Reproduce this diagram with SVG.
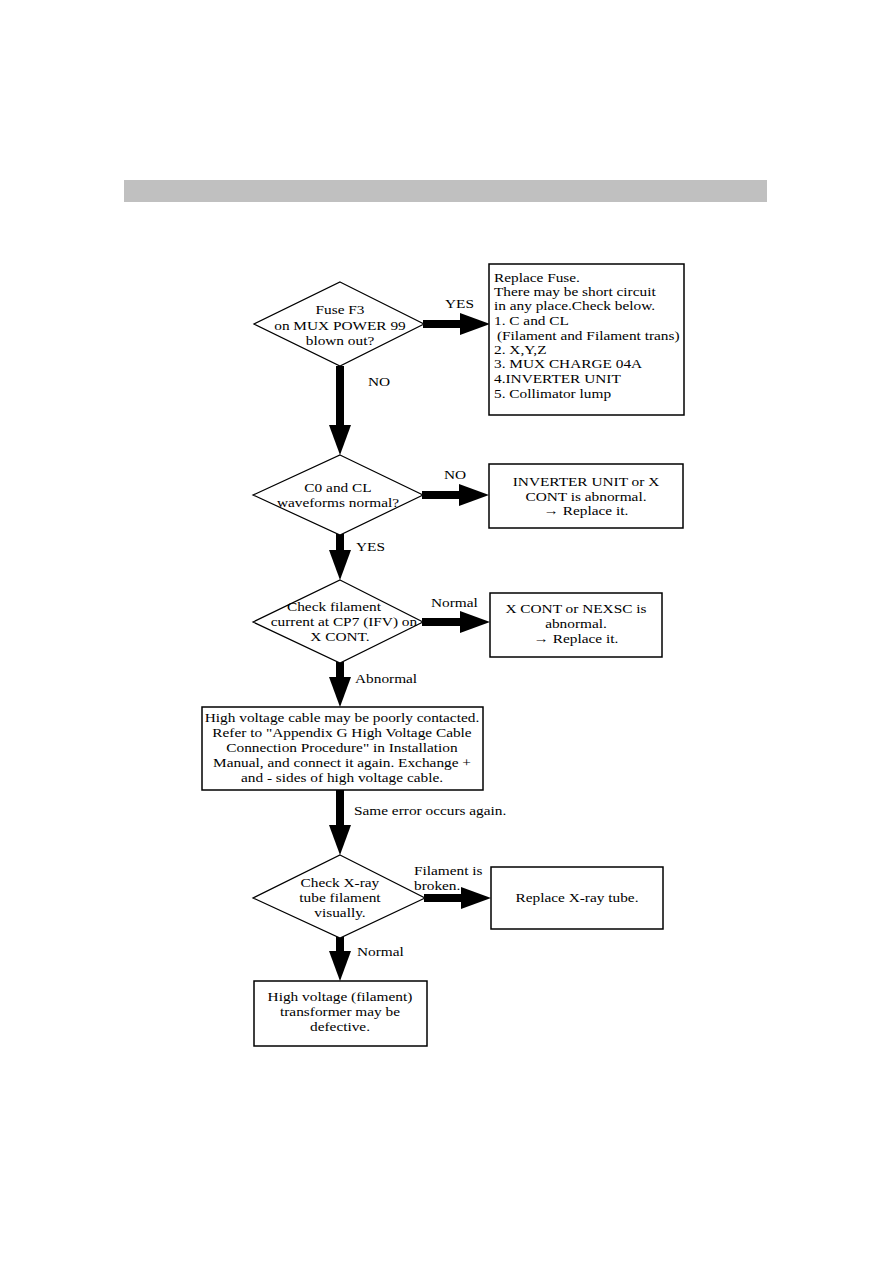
<svg xmlns="http://www.w3.org/2000/svg" width="893" height="1263" viewBox="0 0 893 1263">
<style>
.t{font-family:"Liberation Serif","Times New Roman",serif;font-size:13px;fill:#000;transform-box:fill-box;transform:scaleX(1.18)}
.c{text-anchor:middle;transform-origin:center}
.l{transform-origin:left center}
.box{fill:#fff;stroke:#000;stroke-width:1.5}
.dia{fill:#fff;stroke:#000;stroke-width:1.2}
.sh{stroke:#000;stroke-width:8;fill:none}
</style>
<defs>
<marker id="ah" markerUnits="userSpaceOnUse" markerWidth="30" markerHeight="22" refX="0" refY="11" orient="auto" viewBox="0 0 30 22">
<path d="M0,0 L30,11 L0,22 Z" fill="#000"/>
</marker>
</defs>
<rect width="893" height="1263" fill="#fff"/>
<rect x="124" y="180" width="643" height="22" fill="#c0c0c0"/>

<g id="connectors">
<line class="sh" x1="340" y1="366" x2="340" y2="425" marker-end="url(#ah)"/>
<line class="sh" x1="423" y1="324" x2="460" y2="324" marker-end="url(#ah)"/>
<line class="sh" x1="422" y1="495" x2="459" y2="495" marker-end="url(#ah)"/>
<line class="sh" x1="340" y1="534" x2="340" y2="550" marker-end="url(#ah)"/>
<line class="sh" x1="422" y1="622" x2="460" y2="622" marker-end="url(#ah)"/>
<line class="sh" x1="340" y1="662" x2="340" y2="677" marker-end="url(#ah)"/>
<line class="sh" x1="340" y1="790" x2="340" y2="825" marker-end="url(#ah)"/>
<line class="sh" x1="424" y1="898" x2="461" y2="898" marker-end="url(#ah)"/>
<line class="sh" x1="340" y1="937" x2="340" y2="951" marker-end="url(#ah)"/>
<text class="t l" x="445" y="308">YES</text>
<text class="t l" x="368" y="386">NO</text>
<text class="t l" x="444" y="479">NO</text>
<text class="t l" x="356" y="551">YES</text>
<text class="t l" x="431" y="607">Normal</text>
<text class="t l" x="355" y="683">Abnormal</text>
<text class="t l" x="354" y="815">Same error occurs again.</text>
<text class="t l" x="414" y="875">Filament is</text>
<text class="t l" x="414" y="890">broken.</text>
<text class="t l" x="357" y="956">Normal</text>
</g>

<g id="d1">
<polygon class="dia" points="340,282 424,324 340,366 254,324"/>
<text class="t c" x="340" y="314">Fuse F3</text>
<text class="t c" x="340" y="330">on MUX POWER 99</text>
<text class="t c" x="340" y="345">blown out?</text>
</g>

<g id="b1">
<rect class="box" x="489" y="264" width="195" height="151"/>
<text class="t l" x="494" y="282">Replace Fuse.</text>
<text class="t l" x="494" y="296">There may be short circuit</text>
<text class="t l" x="494" y="310">in any place.Check below.</text>
<text class="t l" x="494" y="325">1. C and CL</text>
<text class="t l" x="497" y="340">(Filament and Filament trans)</text>
<text class="t l" x="494" y="354">2. X,Y,Z</text>
<text class="t l" x="494" y="368">3. MUX CHARGE 04A</text>
<text class="t l" x="494" y="383">4.INVERTER UNIT</text>
<text class="t l" x="494" y="398">5. Collimator lump</text>
</g>

<g id="d2">
<polygon class="dia" points="340,455 423,495 340,535 253,495"/>
<text class="t c" x="338" y="492">C0 and CL</text>
<text class="t c" x="338" y="507">waveforms normal?</text>
</g>

<g id="b2">
<rect class="box" x="489" y="464" width="194" height="64"/>
<text class="t c" x="586" y="486">INVERTER UNIT or X</text>
<text class="t c" x="586" y="501">CONT is abnormal.</text>
<text class="t c" x="586" y="515">→ Replace it.</text>
</g>

<g id="d3">
<polygon class="dia" points="340,580 423,622 340,663 253,622"/>
<text class="t c" x="334" y="611">Check filament</text>
<text class="t c" x="344" y="626">current at CP7 (IFV) on</text>
<text class="t c" x="340" y="641">X CONT.</text>
</g>

<g id="b3">
<rect class="box" x="490" y="593" width="172" height="64"/>
<text class="t c" x="576" y="613">X CONT or NEXSC is</text>
<text class="t c" x="576" y="628">abnormal.</text>
<text class="t c" x="576" y="643">→ Replace it.</text>
</g>

<g id="b4">
<rect class="box" x="202" y="707" width="281" height="83"/>
<text class="t c" x="342" y="722">High voltage cable may be poorly contacted.</text>
<text class="t c" x="342" y="737">Refer to "Appendix G High Voltage Cable</text>
<text class="t c" x="342" y="752">Connection Procedure" in Installation</text>
<text class="t c" x="342" y="767">Manual, and connect it again.  Exchange +</text>
<text class="t c" x="342" y="782">and - sides of high voltage cable.</text>
</g>

<g id="d4">
<polygon class="dia" points="340,855 425,898 340,938 253,898"/>
<text class="t c" x="340" y="887">Check X-ray</text>
<text class="t c" x="340" y="902">tube filament</text>
<text class="t c" x="340" y="917">visually.</text>
</g>

<g id="b5">
<rect class="box" x="491" y="867" width="172" height="62"/>
<text class="t c" x="577" y="902">Replace X-ray tube.</text>
</g>

<g id="b6">
<rect class="box" x="254" y="981" width="173" height="65"/>
<text class="t c" x="340" y="1001">High voltage (filament)</text>
<text class="t c" x="340" y="1016">transformer may be</text>
<text class="t c" x="340" y="1031">defective.</text>
</g>
</svg>
